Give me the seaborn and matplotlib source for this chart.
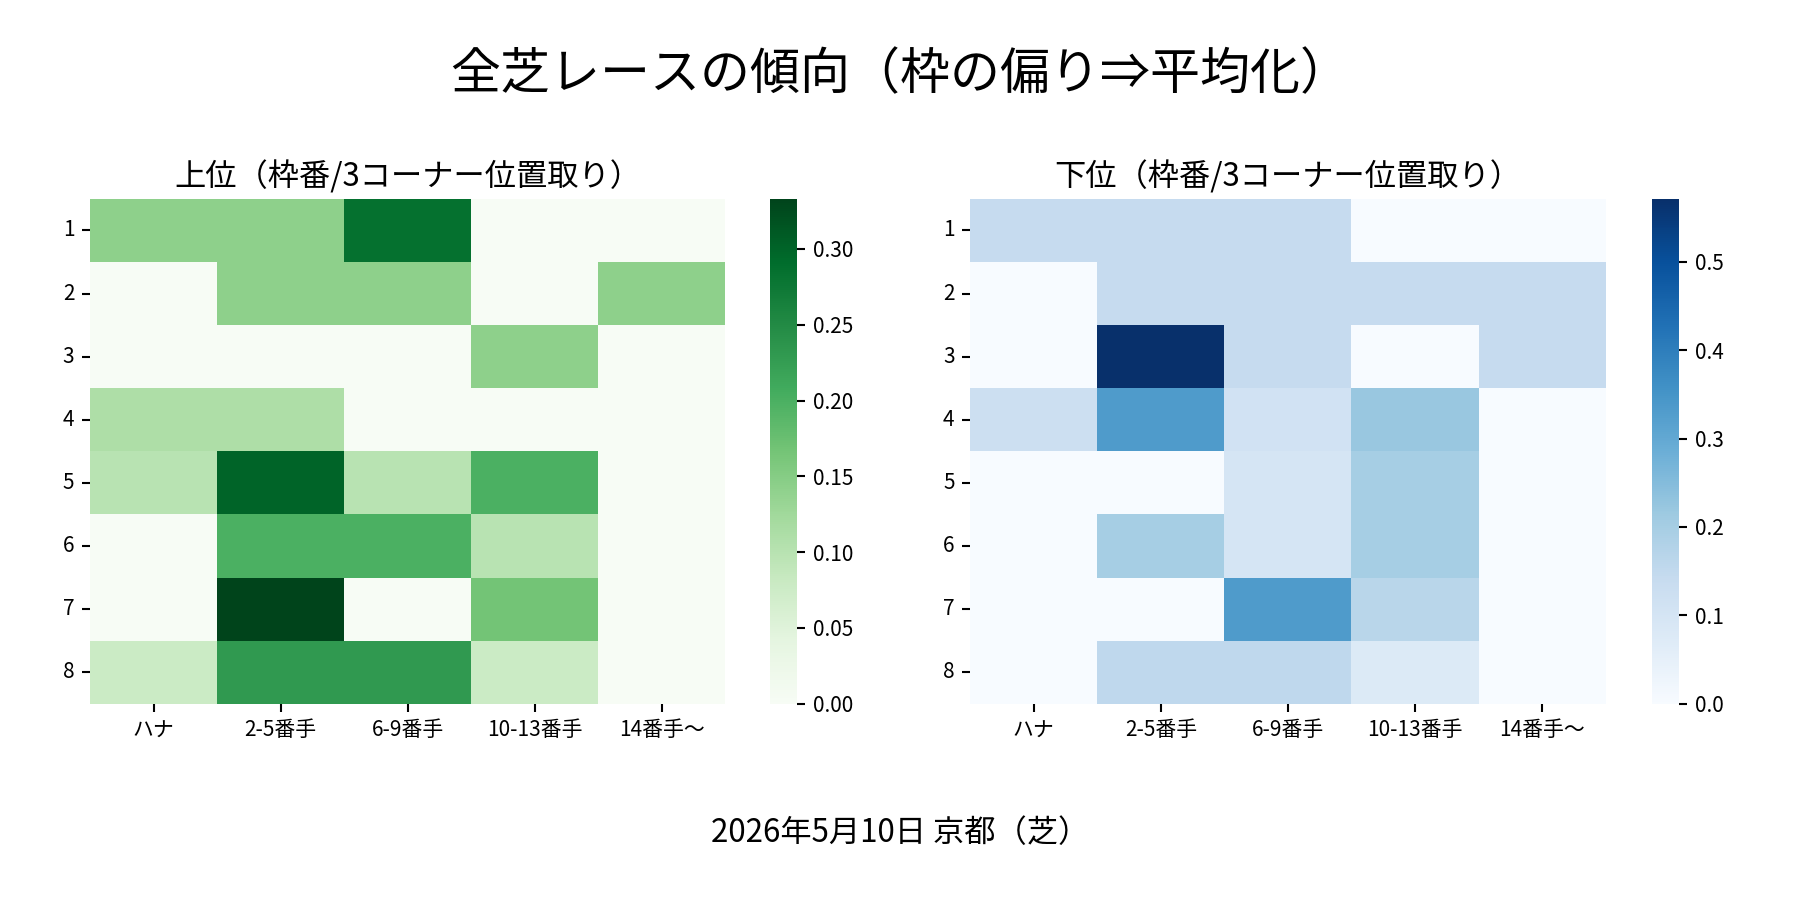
import numpy as np
import pandas as pd
import matplotlib
matplotlib.use('Agg')
import matplotlib.pyplot as plt
import seaborn as sns

WAKU = ['1', '2', '3', '4', '5', '6', '7', '8']
POSITIONS = ['ハナ', '2-5番手', '6-9番手', '10-13番手', '14番手～']

# 上位 (rows = 枠番, cols = 3コーナー位置取り)
TOP_VALUES = [
    [0.143, 0.143, 0.286, 0.000, 0.000],
    [0.000, 0.143, 0.143, 0.000, 0.143],
    [0.000, 0.000, 0.000, 0.143, 0.000],
    [0.111, 0.111, 0.000, 0.000, 0.000],
    [0.100, 0.300, 0.100, 0.200, 0.000],
    [0.000, 0.200, 0.200, 0.100, 0.000],
    [0.000, 0.333, 0.000, 0.167, 0.000],
    [0.077, 0.231, 0.231, 0.077, 0.000],
]

# 下位
BOTTOM_VALUES = [
    [0.143, 0.143, 0.143, 0.000, 0.000],
    [0.000, 0.143, 0.143, 0.143, 0.143],
    [0.000, 0.571, 0.143, 0.000, 0.143],
    [0.125, 0.333, 0.111, 0.222, 0.000],
    [0.000, 0.000, 0.100, 0.200, 0.000],
    [0.000, 0.200, 0.100, 0.200, 0.000],
    [0.000, 0.000, 0.333, 0.167, 0.000],
    [0.000, 0.154, 0.154, 0.077, 0.000],
]

TITLE = '全芝レースの傾向（枠の偏り⇒平均化）'
TOP_TITLE = '上位（枠番/3コーナー位置取り）'
BOTTOM_TITLE = '下位（枠番/3コーナー位置取り）'
FOOTER = '2026年5月10日 京都（芝）'

sns.set_theme(style='white')
plt.rcParams['font.family'] = ['Noto Sans CJK JP', 'DejaVu Sans']
plt.rcParams['text.color'] = 'black'
plt.rcParams['xtick.color'] = 'black'
plt.rcParams['ytick.color'] = 'black'

df_top = pd.DataFrame(TOP_VALUES, index=WAKU, columns=POSITIONS)
df_bottom = pd.DataFrame(BOTTOM_VALUES, index=WAKU, columns=POSITIONS)

fig = plt.figure(figsize=(12, 6), dpi=150)
ax1 = fig.add_axes([0.050, 0.218, 0.353, 0.561])
cax1 = fig.add_axes([0.428, 0.218, 0.015, 0.561])
ax2 = fig.add_axes([0.539, 0.218, 0.353, 0.561])
cax2 = fig.add_axes([0.918, 0.218, 0.015, 0.561])

sns.heatmap(df_top, cmap='Greens', ax=ax1, cbar_ax=cax1)
sns.heatmap(df_bottom, cmap='Blues', ax=ax2, cbar_ax=cax2)

for ax, title in [(ax1, TOP_TITLE), (ax2, BOTTOM_TITLE)]:
    ax.set_title(title, fontsize=15, color='black')
    ax.set_xlabel('')
    ax.set_ylabel('')
    ax.tick_params(axis='both', labelsize=10, length=4, width=1, color='black',
                   labelcolor='black', bottom=True, left=True)
    ax.set_yticklabels(WAKU, rotation=0)
    ax.set_xticklabels(POSITIONS, rotation=0)

for cax in [cax1, cax2]:
    cax.tick_params(labelsize=10, length=4, width=1, color='black', labelcolor='black', right=True)

fig.suptitle(TITLE, fontsize=24, y=0.945, color='black')
fig.text(0.5, 0.074, FOOTER, ha='center', va='center', fontsize=15, color='black')

fig.savefig('out.png', dpi=150)
plt.close(fig)
